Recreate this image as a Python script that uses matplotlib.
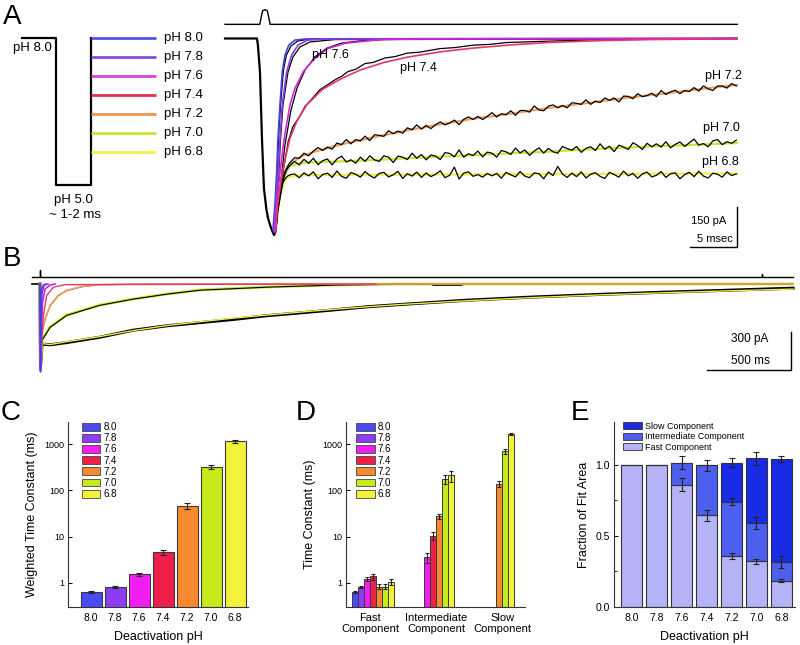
import numpy as np
import matplotlib.pyplot as plt
from matplotlib.patches import Patch
from matplotlib.ticker import FixedLocator, NullLocator

plt.rcParams['font.family'] = ['Liberation Sans', 'DejaVu Sans']

W, H = 800, 645

ph_labels = ['8.0', '7.8', '7.6', '7.4', '7.2', '7.0', '6.8']
bar_colors = ['#4B4BF2', '#8C3CF5', '#F01EF0', '#EE1F48', '#F78A2E', '#C6EA1A', '#F2F23A']
fit_colors = ['#4040E6', '#8A3CE6', '#D424D4', '#E2386C', '#F2A060', '#C8E632', '#EEEE4A']
step_colors = ['#5555E6', '#8C4CE6', '#E040E0', '#E0304C', '#F0924E', '#C6E634', '#F0F050']
step_labels = ['pH ' + p for p in ph_labels]

# ---- panel A : fast time scale (ms, pA) ----
stim_a_t = [-3.4, 0.3, 0.45, 0.6, 0.85, 1.1, 1.25, 1.4, 51.1]
stim_a_i = [53, 53, 80, 104, 108, 104, 80, 53, 53]

onset_t = [-3.4, 0.0, 0.1, 0.32, 0.53, 0.74, 1.0, 1.17, 1.4, 1.6, 1.81]
onset_i = [0, 0, -24, -126, -373, -561, -640, -673, -700, -720, -736]

fit_80_t = [1.70, 1.91, 2.10, 2.23, 2.45, 2.69, 2.98, 3.40, 4.04, 5.11, 51.06]
fit_80_i = [-718, -624, -501, -381, -249, -126, -62, -24, -6, -2, 0]
dat_80_t = [1.81, 2.02, 2.18, 2.34, 2.55, 2.82, 3.14, 3.62, 4.36, 5.64, 51.06]
dat_80_i = [-726, -606, -474, -343, -231, -118, -62, -28, -9, -2, 0]

fit_78_t = [1.81, 1.99, 2.27, 2.45, 2.69, 3.16, 3.69, 4.39, 5.43, 7.77, 51.06]
fit_78_i = [-725, -624, -500, -374, -249, -124, -62, -24, -6, -1, 0]
dat_78_t = [1.9, 2.02, 2.29, 2.50, 2.77, 3.30, 3.83, 4.57, 5.64, 8.30, 51.06]
dat_78_i = [-730, -662, -531, -381, -249, -126, -69, -32, -13, -4, 0]

fit_76_t = [1.9, 2.10, 2.45, 2.90, 3.51, 4.04, 4.93, 6.17, 7.59, 9.36, 13.1, 17.3, 51.06]
fit_76_i = [-725, -624, -500, -374, -249, -187, -124, -74, -37, -18, -4, -1, 0]
dat_76_t = [1.95, 2.13, 2.50, 2.98, 3.62, 4.26, 5.11, 6.17, 7.45, 9.04, 10.96, 13.62, 51.06]
dat_76_i = [-732, -688, -549, -399, -268, -186, -118, -69, -36, -17, -9, -4, 0]

fit_74_t = [2.0, 2.2, 2.69, 3.51, 4.22, 5.29, 7.0, 9.0, 11.0, 13.5, 16.0, 19.5, 23.0, 27.0,
            31.0, 36.5, 42.0, 51.06]
fit_74_i = [-720, -624, -500, -374, -312, -249, -190, -150, -118, -90, -70, -50, -36, -24,
            -15, -8, -4, -1]
dat_74_t = [2.0, 2.20, 2.77, 3.33, 3.83, 4.57, 5.11, 5.85, 6.70, 7.45, 8.30, 9.04, 9.68, 10.53,
            11.49, 12.34, 13.62, 14.68, 15.96, 17.34, 19.47, 21.06, 22.98, 24.79, 26.60, 30.11,
            36.49, 51.06]
dat_74_i = [-725, -643, -501, -385, -330, -290, -255, -226, -192, -175, -155, -141, -124, -115,
            -94, -90, -73, -68, -55, -51, -38, -34, -25, -22, -15, -11, -4, 0]

fit_72_t = [2.27, 2.45, 2.80, 3.33, 3.86, 4.76, 6.17, 7.77, 9.36, 12.34, 15.96, 19.47, 22.98,
            26.60, 30.11, 32.55, 36.17, 39.68, 43.19, 46.81, 51.06]
fit_72_i = [-624, -576, -523, -486, -463, -441, -424, -408, -394, -371, -345, -322, -301,
            -284, -265, -254, -237, -221, -207, -191, -174]

fit_70_t = [2.23, 2.45, 2.77, 3.09, 3.51, 4.57, 6.70, 8.83, 12.34, 15.96, 19.47, 22.98, 26.60,
            30.11, 36.17, 43.19, 51.06]
fit_70_i = [-643, -587, -531, -493, -478, -467, -463, -461, -456, -449, -443, -437, -431,
            -426, -414, -403, -392]

fit_68_t = [2.13, 2.45, 2.88, 3.30, 4.57, 51.06]
fit_68_i = [-662, -587, -538, -519, -512, -506]

# noisy records, rising phase then samples every 0.5 ms from 4 to 51 ms
pre_72_t = [1.9, 2.2, 2.5, 2.8, 3.1, 3.4, 3.7]
pre_72_i = [-725, -640, -560, -515, -490, -470, -458]
rec_72 = [-447, -449, -430, -440, -422, -409, -420, -407, -415, -392,
          -398, -379, -395, -379, -384, -366, -383, -361, -363, -367,
          -346, -357, -347, -355, -335, -342, -324, -340, -326, -338,
          -323, -313, -324, -317, -306, -323, -303, -294, -304, -292,
          -304, -292, -278, -294, -282, -286, -271, -288, -270, -270,
          -276, -253, -268, -271, -254, -249, -260, -251, -260, -241,
          -243, -247, -230, -247, -235, -240, -223, -232, -223, -238,
          -216, -217, -226, -207, -218, -214, -205, -218, -195, -210,
          -200, -194, -207, -195, -199, -184, -197, -178, -189, -195,
          -178, -178, -186, -169, -178]

pre_70_t = [1.9, 2.2, 2.5, 2.8, 3.1, 3.4, 3.7]
pre_70_i = [-730, -650, -590, -530, -495, -480, -470]
rec_70 = [-461, -474, -453, -468, -449, -473, -458, -452, -474, -452,
          -441, -463, -455, -468, -445, -461, -440, -455, -461, -440,
          -445, -465, -441, -445, -454, -430, -449, -435, -455, -437,
          -441, -454, -428, -431, -444, -418, -445, -432, -439, -422,
          -444, -426, -430, -445, -420, -425, -435, -411, -429, -418,
          -438, -422, -410, -430, -412, -425, -430, -405, -413, -419,
          -405, -427, -412, -406, -420, -395, -415, -404, -424, -400,
          -407, -416, -391, -401, -416, -393, -406, -395, -407, -387,
          -410, -397, -388, -405, -391, -377, -400, -394, -406, -384,
          -379, -398, -387, -393, -381]

pre_68_t = [1.8, 2.1, 2.4, 2.7, 3.0, 3.3, 3.6]
pre_68_i = [-736, -670, -600, -545, -525, -515, -510]
rec_68 = [-508, -522, -504, -515, -500, -526, -510, -505, -521, -497,
          -517, -524, -503, -509, -520, -499, -514, -523, -506, -502,
          -519, -511, -498, -525, -507, -516, -501, -521, -504, -518,
          -509, -496, -522, -513, -482, -527, -505, -500, -517, -510,
          -520, -506, -515, -506, -524, -502, -511, -519, -499, -516,
          -522, -504, -507, -526, -501, -514, -480, -508, -521, -505,
          -518, -500, -523, -509, -503, -517, -525, -502, -510, -520,
          -497, -515, -506, -524, -508, -501, -519, -513, -499, -521,
          -507, -504, -526, -510, -502, -518, -498, -516, -523, -505,
          -509, -520, -500, -514, -508]

trace_labels_a = [('pH 7.6', 7.77, -62), ('pH 7.4', 17.2, -111), ('pH 7.2', 49.6, -141),
                  ('pH 7.0', 49.4, -336), ('pH 6.8', 49.3, -463)]

# ---- panel B : slow time scale (ms, pA) ----
b_stim_t = [-50, 0, 0, 0, 4297, 4297, 4297, 4480]
b_stim_i = [55, 55, 110, 55, 55, 80, 55, 55]
b_base_t = [-50, 0]
b_base_i = [0, 0]
b_fit_80_t = [0, 3, 6, 10, 20, 40]
b_fit_80_i = [0, -695, -250, -50, -5, 0]
b_fit_78_t = [0, 3, 7, 12, 25, 50]
b_fit_78_i = [0, -690, -300, -80, -10, 0]
b_fit_76_t = [0, 3, 8, 15, 30, 60, 90]
b_fit_76_i = [0, -680, -400, -150, -40, -8, 0]
b_fit_74_t = [0, 3, 10, 20, 40, 80, 150, 2000]
b_fit_74_i = [0, -670, -450, -250, -90, -25, -5, 0]
b_fit_72_t = [0, 3, 10, 30, 60, 109, 159, 256, 357, 600, 4480]
b_fit_72_i = [0, -650, -392, -274, -168, -89, -50, -18, -5, 0, 0]
b_dat_72_t = [0, 3, 10, 30, 60, 109, 159, 256, 357, 600, 4480]
b_dat_72_i = [0, -660, -400, -280, -172, -92, -52, -20, -6, -1, 0]
b_fit_70_t = [0, 3, 12, 60, 159, 357, 554, 756, 952, 1351, 1744, 2143, 4480]
b_fit_70_i = [0, -640, -442, -339, -245, -166, -118, -79, -47, -24, -8, 0, 0]
b_dat_70_t = [0, 3, 12, 60, 159, 357, 554, 756, 952, 1351, 1744, 2143, 2330, 2340, 2510, 2520]
b_dat_70_i = [0, -650, -445, -342, -248, -168, -120, -80, -49, -25, -9, -2, -3, -10, -10, -3]
b_fit_68_t = [0, 3, 12, 60, 161, 357, 554, 756, 952, 1149, 1351, 1548, 1744, 1946, 2143, 2541,
              2934, 3333, 3732, 4125, 4482]
b_fit_68_i = [0, -640, -470, -478, -455, -415, -368, -328, -298, -270, -245, -222, -200, -180,
              -162, -132, -107, -86, -68, -53, -40]
b_dat_68_t = [0, 3, 12, 60, 161, 357, 554, 756, 952, 1149, 1351, 1548, 1744, 1946, 2143, 2541,
              2934, 3333, 3732, 4125, 4482]
b_dat_68_i = [0, -650, -474, -480, -462, -420, -365, -330, -305, -280, -250, -228, -205, -180,
              -162, -128, -103, -82, -64, -48, -33]

# ---- panel C ----
c_tau = [0.62, 0.81, 1.55, 4.6, 46, 315, 1160]
c_err = [0.03, 0.04, 0.12, 0.6, 6, 30, 90]

# ---- panel D ----
d_groups = ['Fast\nComponent', 'Intermediate\nComponent', 'Slow\nComponent']
d_fast = [0.62, 0.80, 1.20, 1.37, 0.83, 0.83, 1.05]
d_fast_err = [0.03, 0.04, 0.13, 0.2, 0.1, 0.1, 0.17]
d_int_ph = ['7.6', '7.4', '7.2', '7.0', '6.8']
d_int = [3.6, 10.5, 28, 175, 210]
d_int_err = [0.9, 2.0, 3.5, 35, 55]
d_slow_ph = ['7.2', '7.0', '6.8']
d_slow = [140, 700, 1650]
d_slow_err = [20, 80, 110]

# ---- panel E ----
e_fast = np.array([1.0, 1.0, 0.86, 0.645, 0.36, 0.32, 0.185])
e_int = np.array([0, 0, 0.155, 0.35, 0.38, 0.27, 0.13])
e_slow = np.array([0, 0, 0, 0, 0.275, 0.455, 0.725])
e_fast_err = np.array([0, 0, 0.045, 0.04, 0.02, 0.02, 0.012])
e_int_err = np.array([0, 0, 0.045, 0.04, 0.025, 0.045, 0.04])
e_slow_err = np.array([0, 0, 0, 0, 0.03, 0.045, 0.02])
e_colors = ['#B3B3F6', '#4D5FEF', '#1A2BE6']
e_names = ['Fast Component', 'Intermediate Component', 'Slow Component']


fig = plt.figure(figsize=(W / 100, H / 100), dpi=100)


def px_axes(x0, y0, x1, y1):
    return fig.add_axes([x0 / W, 1 - y1 / H, (x1 - x0) / W, (y1 - y0) / H])


for lab, x, y in [('A', 12, 17), ('B', 12, 259), ('C', 11, 413), ('D', 306, 413), ('E', 580, 413)]:
    fig.text(x / W, 1 - y / H, lab, fontsize=20, ha='center', va='center')

# ---- A: protocol ----
axP = px_axes(22, 38, 156, 185)
axP.set_xlim(0, 3.9)
axP.set_ylim(7.72, 0)
axP.axis('off')
axP.plot([0, 1, 1, 2, 2], [0, 0, 7.72, 7.72, 0], color='k', lw=1.6, clip_on=False)
for i, (lab, c) in enumerate(zip(step_labels, step_colors)):
    axP.plot([2, 3.9], [i, i], color=c, lw=2, clip_on=False, solid_capstyle='butt')
    axP.text(4.12, i, lab, ha='left', va='center', fontsize=9.5)
axP.text(0.29, 0.55, 'pH 8.0', ha='center', va='center', fontsize=9.5)
axP.text(1.51, 8.5, 'pH 5.0', ha='center', va='center', fontsize=9.5)
axP.text(1.54, 9.3, '~ 1-2 ms', ha='center', va='center', fontsize=9.5)

# ---- A: traces ----
axA = px_axes(222, 3, 742, 252)
axA.set_xlim(-3.72, 51.6)
axA.set_ylim(-800.6, 133.1)
axA.axis('off')
axA.plot(stim_a_t, stim_a_i, color='k', lw=1.0)
axA.plot(onset_t, onset_i, color='k', lw=1.6)
for t, i in [(dat_80_t, dat_80_i), (dat_78_t, dat_78_i), (dat_76_t, dat_76_i), (dat_74_t, dat_74_i)]:
    axA.plot(t, i, color='k', lw=0.9)
for pre_t, pre_i, rec in [(pre_72_t, pre_72_i, rec_72), (pre_70_t, pre_70_i, rec_70),
                          (pre_68_t, pre_68_i, rec_68)]:
    t = np.concatenate([pre_t, np.linspace(4.0, 51.0, len(rec))])
    axA.plot(t, np.concatenate([pre_i, rec]), color='k', lw=0.9, zorder=3)
fits_a = [(fit_80_t, fit_80_i), (fit_78_t, fit_78_i), (fit_76_t, fit_76_i), (fit_74_t, fit_74_i),
          (fit_72_t, fit_72_i), (fit_70_t, fit_70_i), (fit_68_t, fit_68_i)]
for k, (t, i) in enumerate(fits_a):
    z = 4 if k < 4 else 2
    axA.plot(t, i, color=fit_colors[k], lw=1.2 if k < 4 else 1.6, zorder=z)
for lab, t, i in trace_labels_a:
    axA.text(t, i, lab, ha='center', va='center', fontsize=9, zorder=6)
axA.plot([46.06, 51.06, 51.06], [-782, -782, -632], color='k', lw=1.0)
axA.text(48.0, -684, '150 pA', ha='center', va='center', fontsize=8)
axA.text(48.7, -752, '5 msec', ha='center', va='center', fontsize=8)

# ---- B ----
axB = px_axes(30, 262, 800, 385)
axB.set_xlim(-59.5, 4523.5)
axB.set_ylim(-797.4, 173.7)
axB.axis('off')
axB.plot(b_stim_t, b_stim_i, color='k', lw=1.0)
axB.plot(b_base_t, b_base_i, color='k', lw=1.2)
axB.plot(b_dat_68_t, b_dat_68_i, color='k', lw=2.2)
axB.plot(b_fit_68_t, b_fit_68_i, color=fit_colors[6], lw=1.0)
axB.plot(b_fit_70_t, b_fit_70_i, color=fit_colors[5], lw=2.0)
axB.plot(b_dat_70_t, b_dat_70_i, color='k', lw=0.8)
axB.plot(b_dat_72_t, b_dat_72_i, color='#6b5a2a', lw=0.9)
axB.plot(b_fit_72_t, b_fit_72_i, color=fit_colors[4], lw=1.1)
axB.plot(b_fit_74_t, b_fit_74_i, color=fit_colors[3], lw=1.0)
axB.plot(b_fit_76_t, b_fit_76_i, color=fit_colors[2], lw=1.2)
axB.plot(b_fit_78_t, b_fit_78_i, color=fit_colors[1], lw=1.0)
axB.plot(b_fit_80_t, b_fit_80_i, color=fit_colors[0], lw=1.0)
axB.plot([3970, 4470, 4470], [-679, -679, -379], color='k', lw=1.0)
axB.text(4226, -434, '300 pA', ha='center', va='center', fontsize=8.5)
axB.text(4226, -608, '500 ms', ha='center', va='center', fontsize=8.5)


def style_axes(ax):
    for s in ['top', 'right']:
        ax.spines[s].set_visible(False)
    for s in ['left', 'bottom']:
        ax.spines[s].set_linewidth(0.8)
        ax.spines[s].set_color('#333333')
    ax.tick_params(axis='y', direction='in', length=3, width=0.7, labelsize=6.5, pad=3)
    ax.tick_params(axis='x', length=0, labelsize=7.5, pad=4)


def ph_legend(ax, x0):
    handles = [Patch(facecolor=c, edgecolor='#444444', lw=0.6, label=l)
               for c, l in zip(bar_colors, ph_labels)]
    ax.legend(handles=handles, loc='upper left', bbox_to_anchor=(x0, 1.0), frameon=False,
              fontsize=7, handlelength=1.95, handleheight=0.85, labelspacing=0.12,
              handletextpad=0.3, borderpad=0, borderaxespad=0)


err_kw = dict(elinewidth=0.8, capthick=0.8, ecolor='#222222')

# ---- C ----
axC = px_axes(68, 422, 248, 607)
axC.set_yscale('log')
xc = np.arange(len(ph_labels))
axC.bar(xc, c_tau, width=0.875, color=bar_colors, edgecolor='#3a3a3a', lw=0.8,
        yerr=c_err, capsize=2, error_kw=err_kw)
axC.set_ylim(0.3, 3000)
axC.set_xlim(-0.96, 6.54)
axC.yaxis.set_major_locator(FixedLocator([1, 10, 100, 1000]))
axC.yaxis.set_minor_locator(NullLocator())
axC.set_yticklabels(['1', '10', '100', '1000'])
axC.set_xticks(xc)
axC.set_xticklabels(ph_labels)
style_axes(axC)
axC.set_ylabel('Weighted Time Constant (ms)', fontsize=9, labelpad=4)
axC.set_xlabel('Deactivation pH', fontsize=9, labelpad=6)
ph_legend(axC, 0.075)

# ---- D ----
axD = px_axes(346, 422, 525, 607)
axD.set_yscale('log')
xd = np.arange(len(ph_labels))
axD.bar(xd, d_fast, width=1.0, color=bar_colors, edgecolor='#3a3a3a', lw=0.7,
        yerr=d_fast_err, capsize=1.5, error_kw=err_kw)
xi = [10 + ph_labels.index(p) for p in d_int_ph]
axD.bar(xi, d_int, width=1.0, color=[bar_colors[ph_labels.index(p)] for p in d_int_ph],
        edgecolor='#3a3a3a', lw=0.7, yerr=d_int_err, capsize=1.5, error_kw=err_kw)
xs = [20 + ph_labels.index(p) for p in d_slow_ph]
axD.bar(xs, d_slow, width=1.0, color=[bar_colors[ph_labels.index(p)] for p in d_slow_ph],
        edgecolor='#3a3a3a', lw=0.7, yerr=d_slow_err, capsize=1.5, error_kw=err_kw)
axD.set_ylim(0.3, 3000)
axD.set_xlim(-1.5, 28.3)
axD.yaxis.set_major_locator(FixedLocator([1, 10, 100, 1000]))
axD.yaxis.set_minor_locator(NullLocator())
axD.set_yticklabels(['1', '10', '100', '1000'])
axD.set_xticks([2.5, 13.5, 24.5])
axD.set_xticklabels(d_groups)
style_axes(axD)
axD.tick_params(axis='x', labelsize=8)
axD.set_ylabel('Time Constant (ms)', fontsize=9, labelpad=4)
ph_legend(axD, 0.056)

# ---- E ----
axE = px_axes(614, 422, 795, 607)
xe = np.arange(len(ph_labels))
bottoms = [np.zeros(len(xe)), e_fast, e_fast + e_int]
for vals, bot, c in zip([e_fast, e_int, e_slow], bottoms, e_colors):
    axE.bar(xe, vals, bottom=bot, width=0.84, color=c, edgecolor='#333333', lw=0.8)
for top, err in [(e_fast, e_fast_err), (e_fast + e_int, e_int_err), (e_fast + e_int + e_slow, e_slow_err)]:
    m = err > 0
    axE.errorbar(xe[m], top[m], yerr=err[m], fmt='none', capsize=2, **err_kw)
axE.set_ylim(0, 1.3)
axE.set_xlim(-0.72, 6.55)
axE.yaxis.set_major_locator(FixedLocator([0.0, 0.5, 1.0]))
axE.yaxis.set_minor_locator(FixedLocator([0.25, 0.75]))
axE.set_yticklabels(['0.0', '0.5', '1.0'])
axE.set_xticks(xe)
axE.set_xticklabels(ph_labels)
style_axes(axE)
axE.tick_params(axis='y', which='minor', direction='in', length=2, width=0.6)
axE.tick_params(axis='y', labelsize=7.5)
axE.set_ylabel('Fraction of Fit Area', fontsize=9, labelpad=4)
axE.set_xlabel('Deactivation pH', fontsize=9, labelpad=6)
e_handles = [Patch(facecolor=c, edgecolor='#333333', lw=0.6, label=n)
             for c, n in zip(e_colors[::-1], e_names[::-1])]
axE.legend(handles=e_handles, loc='upper left', bbox_to_anchor=(0.05, 1.0), frameon=False,
           fontsize=6.5, handlelength=2.1, handleheight=0.8, labelspacing=0.15,
           handletextpad=0.35, borderpad=0, borderaxespad=0)

fig.savefig('out.png', dpi=100)
